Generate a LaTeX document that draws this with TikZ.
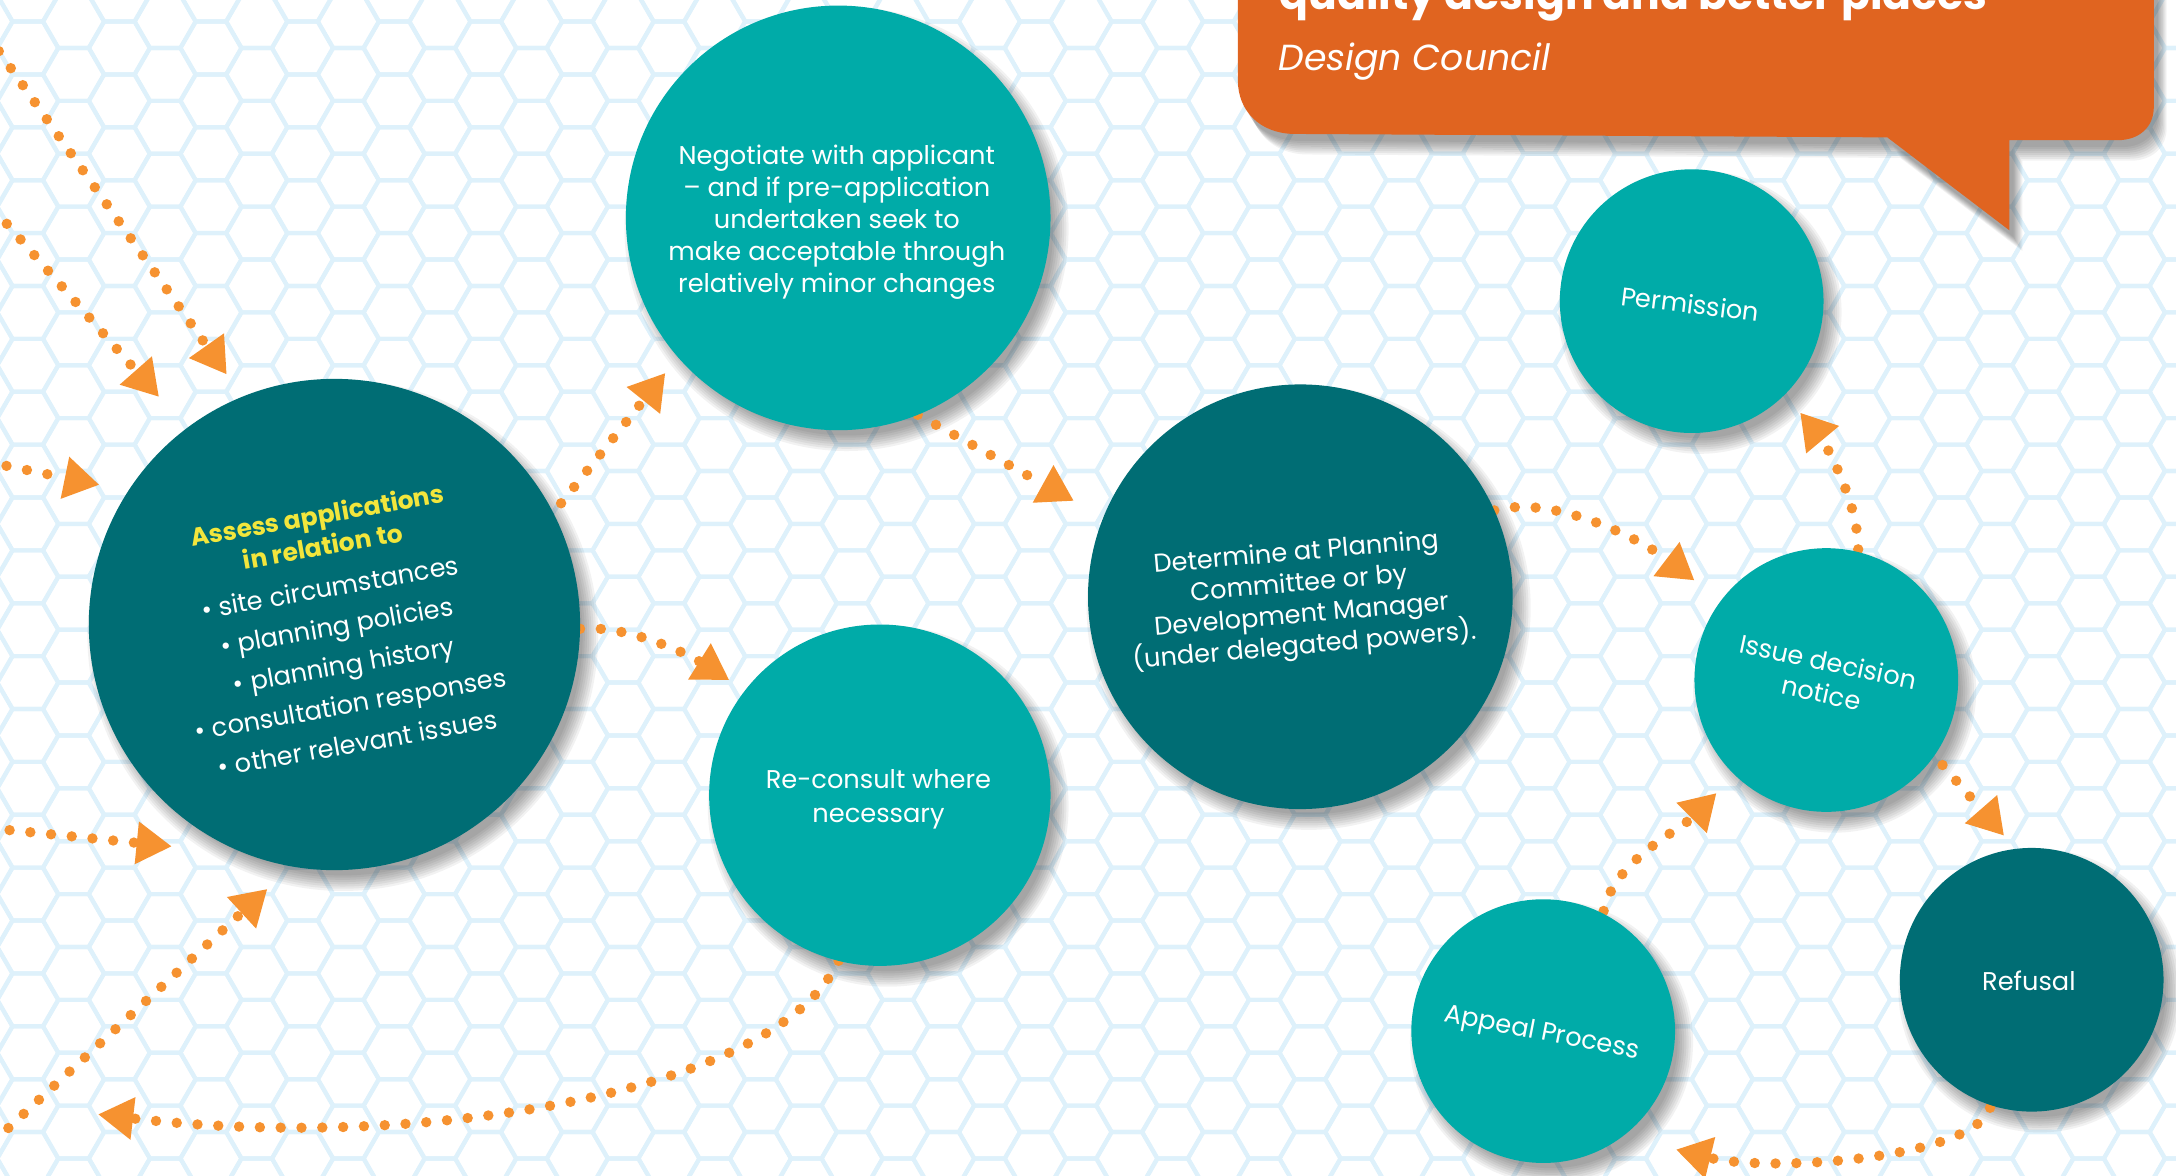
\documentclass[tikz,border=0pt]{standalone}
\usepackage{fontspec}
\setmainfont{Poppins}
\usetikzlibrary{arrows.meta}
\definecolor{lteal}{RGB}{0,171,168}
\definecolor{dteal}{RGB}{0,109,116}
\definecolor{arrowc}{RGB}{246,146,48}
\definecolor{hexc}{RGB}{222,241,251}
\definecolor{bubblec}{RGB}{224,100,32}
\definecolor{yel}{RGB}{242,230,60}
\newcommand\yfont{\color{yel}\bfseries\fontsize{18}{22}\selectfont}
\pgfdeclarelayer{bg}
\pgfdeclarelayer{shd}
\pgfdeclarelayer{arr}
\pgfsetlayers{bg,shd,arr,main}
\begin{document}
\begin{tikzpicture}[x=1pt,y=-1pt,
  circ/.style={circle, inner sep=0pt, outer sep=0pt},
  lt/.style={circ, fill=lteal, minimum size=#1},
  dk/.style={circ, fill=dteal, minimum size=#1},
  txt/.style={text=white, align=center, inner sep=0pt, font=\fontsize{18.5}{23}\selectfont},
  softshadow/.style={fill=black, opacity=0.05},
  flow/.style={draw=arrowc, line width=7.5pt, line cap=round, dash pattern=on 0pt off 15pt,
    -{Triangle[length=25pt,width=31pt,line width=0pt]}},
]
\useasboundingbox (0,0) rectangle (1568,847);

% background hex grid
\begin{pgfonlayer}{bg}
\fill[white] (0,0) rectangle (1568,847);
\foreach \i in {-25,...,23}{
  \foreach \j in {-6,...,18}{
    \pgfmathsetmacro\cx{812+33*\i}
    \pgfmathsetmacro\cy{187+38.105*\j+19.05*mod(abs(\i),2)}
    \draw[hexc,line width=3pt] (\cx,\cy) +(22,0) -- +(11,19.05) -- +(-11,19.05) -- +(-22,0) -- +(-11,-19.05) -- +(11,-19.05) -- cycle;
  }
}
\end{pgfonlayer}

% speech bubble with soft shadow
\begin{pgfonlayer}{shd}
\foreach \k in {0,...,7}{
  \fill[softshadow, shift={(3+0.9*\k,5+1.4*\k)}]
    (892,-60) -- (892,58) .. controls (892,80) and (908,96) .. (932,96.5) -- (1360,99) -- (1448,166) -- (1448,101)
    -- (1526,101) .. controls (1541,101) and (1552,92) .. (1552,77) -- (1552,-60) -- cycle;
}
\end{pgfonlayer}
\fill[bubblec]
  (892,-60) -- (892,58) .. controls (892,80) and (908,96) .. (932,96.5) -- (1360,99) -- (1448,166) -- (1448,101)
  -- (1526,101) .. controls (1541,101) and (1552,92) .. (1552,77) -- (1552,-60) -- cycle;
\node[anchor=base west, inner sep=0pt, text=white] (quote) at (922,7)
  {\resizebox{510pt}{!}{\bfseries quality design and better places}};
\node[anchor=base west, inner sep=0pt, text=white] (source) at (921,51)
  {\resizebox{196pt}{!}{\itshape Design Council}};

% circles
\node[lt=306] (negot) at (604,157) {};
\node[dk=354] (assess) at (241,450) {};
\node[lt=246] (recons) at (634,573) {};
\node[dk=306] (determ) at (937,430) {};
\node[lt=190] (perm) at (1219,217) {};
\node[lt=190] (issue) at (1316,490) {};
\node[dk=190] (refus) at (1464,706) {};
\node[lt=190] (appeal) at (1112,743) {};

% soft shadows of the circles
\begin{pgfonlayer}{shd}
\foreach \n/\r in {negot/153,assess/177,recons/123,determ/153,perm/95,issue/95,refus/95,appeal/95}{
  \foreach \k in {0,...,7}{
    \fill[softshadow] ([shift={(6,8)}]\n.center) circle[radius={\r+7-1.6*\k}];
  }
}
\end{pgfonlayer}

% texts
\node[txt] (tnegot) at (603,160) {Negotiate with applicant\\– and if pre-application\\undertaken seek to\\make acceptable through\\relatively minor changes};
\node[txt, rotate=10, font=\fontsize{18.5}{28.5}\selectfont] (tassess) at (243,453)
  {{\yfont Assess applications}\\[-5.9pt]{\yfont in relation to}\\[1.5pt]
   • site circumstances\\ • planning policies\\ • planning history\\ • consultation responses\\ • other relevant issues};
\node[txt, font=\fontsize{18.5}{24}\selectfont] (trecons) at (633,576) {Re-consult where\\necessary};
\node[txt, rotate=5, font=\fontsize{18.5}{22.5}\selectfont] (tdeterm) at (937,433) {Determine at Planning\\Committee or by\\Development Manager\\(under delegated powers).};
\node[txt, rotate=-7] (tperm) at (1218,219) {Permission};
\node[txt, rotate=-12] (tissue) at (1315,488) {Issue decision\\notice};
\node[txt] (trefus) at (1462,707) {Refusal};
\node[txt, rotate=-11] (tappeal) at (1111,745) {Appeal Process};

% connectors
\coordinate (sA) at (-9.5,24.6);
\coordinate (sB) at (-5,150);
\coordinate (sC) at (-10,332.7);
\coordinate (sD) at (-8,596.7);
\coordinate (sE) at (-5,823);
\coordinate (eF) at (71,803);
\begin{pgfonlayer}{arr}
\draw[flow, shorten >=20pt] (sA) -- (assess.112.4);
\draw[flow, shorten >=30.5pt] (sB) -- (assess.127.1);
\draw[flow, shorten >=21.7pt] (sC) -- (assess.147.8);
\draw[flow, shorten >=54.4pt] (sD) -- (assess.249.2);
\draw[flow, shorten >=24.3pt] (sE) -- (assess.260.5);
\draw[flow, shorten <=9pt, shorten >=14.9pt] (assess.27) -- (negot.221.5);
\draw[flow, shorten >=24.7pt] (negot.-68.6) -- (determ.158.5);
\draw[flow, shorten >=14pt] (assess.-1) .. controls +(35,-3) and +(-40,-25) .. (recons.142);
\draw[flow] (recons.-104) .. controls +(-44,96) and +(229,27) .. (eF);
\draw[flow, shorten >=24.4pt] (determ.24) .. controls +(45,-12) and +(-55,-42) .. (issue.143.6);
\draw[flow, shorten <=2pt, shorten >=17.5pt] (issue.76) .. controls +(0,-40) and +(25,30) .. (perm.-45.6);
\draw[flow, shorten <=9pt, shorten >=13pt] (issue.-35.1) -- (refus.97.6);
\draw[flow, shorten <=2pt, shorten >=40pt] (refus.-108.8) .. controls +(-13,39) and +(106,26) .. (appeal.-53.3);
\draw[flow, shorten <=2pt, shorten >=18.9pt] (appeal.63) .. controls +(8,-38) and +(-40,40) .. (issue.226.3);
\end{pgfonlayer}
\end{tikzpicture}
\end{document}
